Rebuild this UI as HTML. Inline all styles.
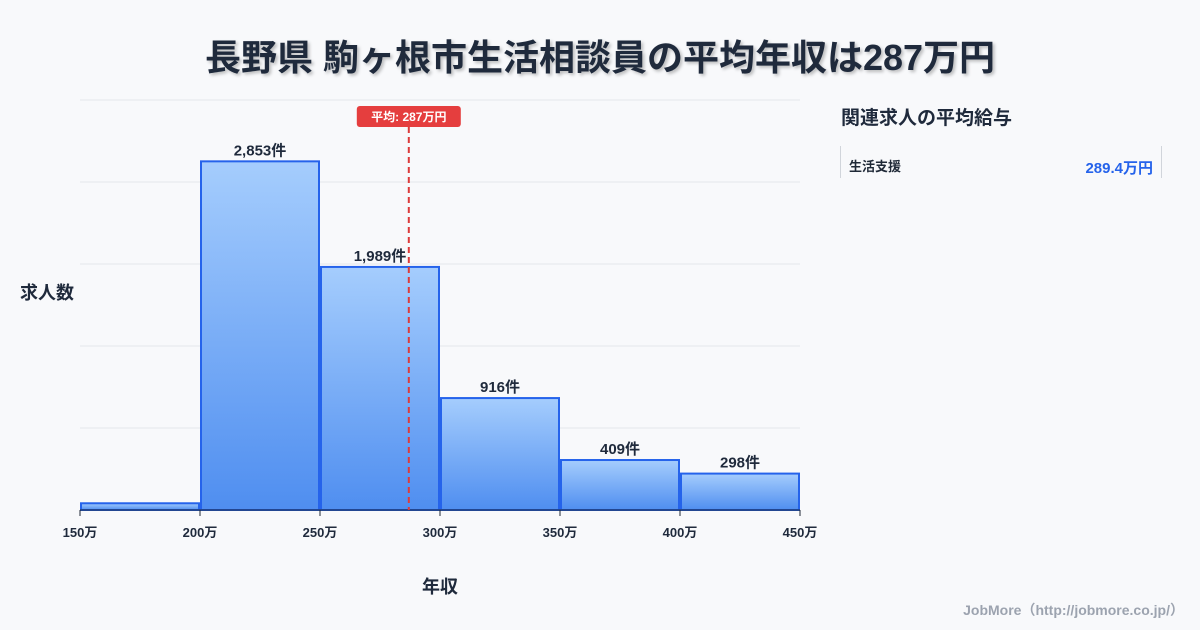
<!DOCTYPE html>
<html><head><meta charset="utf-8"><style>
body{margin:0;width:1200px;height:630px;background:#f8f9fb;font-family:"Liberation Sans","Noto Sans CJK JP",sans-serif;position:relative;overflow:hidden;color:#1f2937}
.title{position:absolute;top:29px;left:0;width:1200px;text-align:center;font-size:36px;font-weight:bold;color:#1f2a3c;text-shadow:2px 2px 3px rgba(0,0,0,0.25)}
.side{position:absolute;left:841px;top:103px;font-size:19px;font-weight:bold;color:#1f2a3c}
.card{position:absolute;left:840px;top:146px;width:320px;height:32px;border-left:1px solid #d1d5db;border-right:1px solid #d1d5db}
.card .n{position:absolute;left:8px;top:10px;font-size:13px;font-weight:bold}
.card .v{position:absolute;right:8px;top:11px;font-size:15px;font-weight:bold;color:#2563eb}
.foot{position:absolute;right:16px;bottom:10px;font-size:14px;font-weight:bold;color:#9ca3af}
</style></head><body>
<div class="title">長野県 駒ヶ根市生活相談員の平均年収は287万円</div>
<div class="side">関連求人の平均給与</div>
<div class="card"><span class="n">生活支援</span><span class="v">289.4万円</span></div>
<div class="foot">JobMore（http://jobmore.co.jp/）</div>
<svg id="c" width="1200" height="630" style="position:absolute;left:0;top:0">
<defs><linearGradient id="g" x1="0" y1="0" x2="0" y2="1"><stop offset="0" stop-color="#a5cdfd"/><stop offset="1" stop-color="#4f8ef0"/></linearGradient></defs>
</svg>
<script>
const binStarts=[150,200,250,300,350,400];
const counts=[55,2853,1989,916,409,298];
const ticks=[150,200,250,300,350,400,450];
const avg=287;
const yMax=3355;
const svg=document.getElementById('c');
const NS='http://www.w3.org/2000/svg';
const x=v=>80+(v-150)*720/300;
const y=v=>510-v*410/yMax;
function mk(t,a,txt){const e=document.createElementNS(NS,t);for(const k in a)e.setAttribute(k,a[k]);if(txt!==undefined)e.textContent=txt;svg.appendChild(e);return e;}
for(let i=0;i<=5;i++){const l=mk('line',{x1:80,x2:800,y1:100+i*82,y2:100+i*82,stroke:'#e5e7eb','stroke-width':1});

}
binStarts.forEach((s,i)=>{
const r=mk('rect',{x:x(s)+1,y:y(counts[i]),width:x(s+50)-x(s)-2,height:510-y(counts[i]),fill:'url(#g)',stroke:'#2563eb','stroke-width':2});


if(i>0){const t=mk('text',{x:(x(s)+x(s+50))/2,y:y(counts[i])-6,'text-anchor':'middle','font-size':15,'font-weight':'bold',fill:'#1f2a3c'},counts[i].toLocaleString('en-US')+'件');

}
});
mk('line',{x1:80,x2:800,y1:510,y2:510,stroke:'#1f2937','stroke-width':1});
ticks.forEach(v=>{mk('line',{x1:x(v),x2:x(v),y1:510,y2:516,stroke:'#1f2937'});
const t=mk('text',{x:x(v),y:537,'text-anchor':'middle','font-size':13,'font-weight':'bold',fill:'#1f2a3c'},v+'万');

});
const ax=x(avg);
const al=mk('line',{x1:ax,x2:ax,y1:127,y2:510,stroke:'#dc3b3b','stroke-width':2,'stroke-dasharray':'6,4'});


const ab=mk('rect',{x:ax-52,y:106,width:104,height:21,rx:3,fill:'#e53e3e'});


mk('text',{x:ax,y:121,'text-anchor':'middle','font-size':12,'font-weight':'bold',fill:'#fff'},'平均: '+avg+'万円');
const yt=mk('text',{x:20,y:299,'font-size':18,'font-weight':'bold',fill:'#1f2a3c'},'求人数');


const xt=mk('text',{x:440,y:593,'text-anchor':'middle','font-size':18,'font-weight':'bold',fill:'#1f2a3c'},'年収');


</script>
</body></html>
